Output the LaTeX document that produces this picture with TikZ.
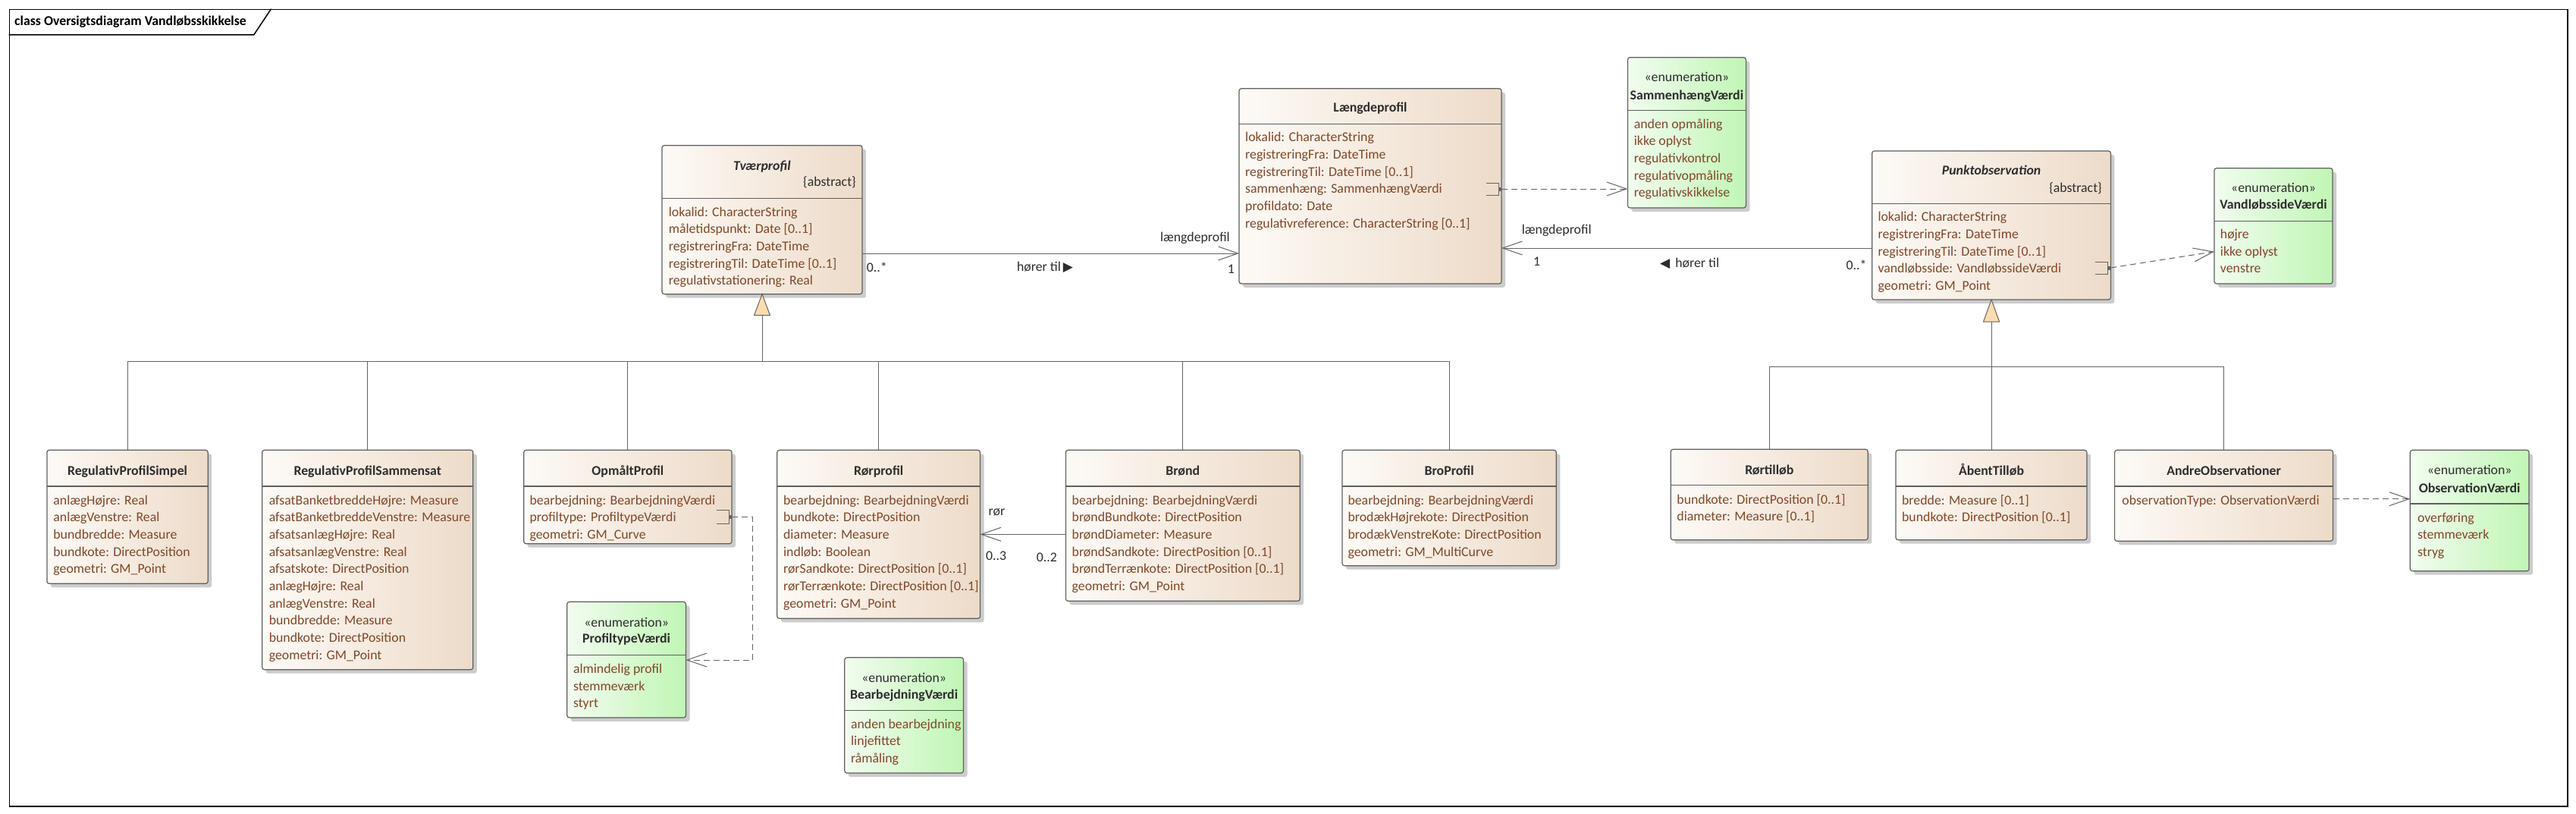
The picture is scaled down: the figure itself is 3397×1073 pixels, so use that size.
\documentclass[tikz,border=0pt]{standalone}
\usepackage{fontspec}
\setmainfont{Carlito}
\newfontfamily\symfont{DejaVu Sans}
\usetikzlibrary{arrows.meta,shadows}
\definecolor{clsL}{RGB}{253,250,246}
\definecolor{clsR}{RGB}{237,219,201}
\definecolor{enL}{RGB}{242,252,240}
\definecolor{enR}{RGB}{192,246,180}
\definecolor{bord}{RGB}{95,95,95}
\definecolor{attrc}{RGB}{128,72,40}
\definecolor{namec}{RGB}{45,45,45}
\definecolor{conc}{RGB}{100,100,100}
\definecolor{genf}{RGB}{250,221,175}
\newcommand\fs{\fontsize{17.8}{21}\selectfont}
\newcommand\attrlist[4]{\foreach \txt [count=\i from 0] in {#4} {\node[attr] (#1-\i) at (#2, #3+5+22.7*\i) {\txt};}}
\newcommand\clsbox[7]{\node[#2, minimum width=#5pt, minimum height=#6pt] (#1) at (#3,#4) {};
 \draw[divl] (#1.west |- 0,#7) -- (#1.east |- 0,#7);}
\tikzset{
 box/.style={draw=bord, line width=1.2pt, rounded corners=3pt, anchor=north west, inner sep=0pt, outer sep=0pt,
   drop shadow={shadow xshift=5pt, shadow yshift=-5pt, fill=black, opacity=0.2}},
 cls/.style={box, left color=clsL, right color=clsR},
 enm/.style={box, left color=enL, right color=enR},
 divl/.style={draw=bord, line width=1.2pt},
 attr/.style={anchor=base west, inner sep=0pt, text=attrc, font=\fs},
 cname/.style={anchor=base, inner sep=0pt, text=namec, font=\fs\bfseries},
 stereo/.style={anchor=base, inner sep=0pt, text=namec, font=\fs},
 lbl/.style={inner sep=0pt, text=namec, font=\fs},
 conn/.style={draw=conc, line width=1pt},
 assoc/.style={conn, -{Straight Barb[length=26pt,width=18pt]}},
 dep/.style={conn, dash pattern=on 8pt off 5pt, -{Straight Barb[length=26pt,width=18pt]}},
 gentri/.style={draw=conc, fill=genf, line width=1pt, line join=miter},
 brk/.style={draw=conc, line width=1pt},
}
\begin{document}
\begin{tikzpicture}[x=1pt,y=-1pt]
\fill[white] (0,0) rectangle (3397,1073);
\useasboundingbox (0,0) rectangle (3397,1073);
% frame
\node[draw=black, line width=1.5pt, minimum width=3373.5pt, minimum height=1050.6pt, anchor=north west, inner sep=0pt] (frame) at (11.5,11.7) {};
\draw[line width=1.5pt] (frame.west |- 0,46) -- (334.7,46) -- (357.6,11.7);
\node[anchor=base west, inner sep=0pt, font=\fs\bfseries] (title) at (19,34) {class Oversigtsdiagram Vandløbsskikkelse};

% ---------- boxes ----------
\clsbox{tvaer}{cls}{873}{191.7}{264}{196}{261.7}
\node[cname, font=\fs\bfseries\itshape] (tvaer-n) at (tvaer.north |- 0,224) {Tværprofil};
\node[lbl, anchor=base east] (tvaer-a) at (1129,245.7) {\{abstract\}};
\attrlist{tvaer}{881.6}{280}{lokalid: CharacterString, måletidspunkt: Date [0..1], registreringFra: DateTime, registreringTil: DateTime [0..1], regulativstationering: Real}

\clsbox{laeng}{cls}{1634}{116.7}{346}{257.3}{163.3}
\node[cname] (laeng-n) at (laeng.north |- 0,147.7) {Længdeprofil};
\attrlist{laeng}{1642}{181.7}{lokalid: CharacterString, registreringFra: DateTime, registreringTil: DateTime [0..1], sammenhæng: SammenhængVærdi, profildato: Date, regulativreference: CharacterString [0..1]}

\clsbox{sammen}{enm}{2146.4}{75.7}{156}{198.3}{145.7}
\node[stereo] (sammen-s) at (sammen.north |- 0,107.3) {«enumeration»};
\node[cname] (sammen-n) at (sammen.north |- 0,131) {SammenhængVærdi};
\attrlist{sammen}{2154.6}{164}{anden opmåling, ikke oplyst, regulativkontrol, regulativopmåling, regulativskikkelse}

\clsbox{punkt}{cls}{2468.7}{199}{314.7}{196}{268.3}
\node[cname, font=\fs\bfseries\itshape] (punkt-n) at (punkt.north |- 0,230.7) {Punktobservation};
\node[lbl, anchor=base east] (punkt-a) at (2772,253.3) {\{abstract\}};
\attrlist{punkt}{2476.3}{286.7}{lokalid: CharacterString, registreringFra: DateTime, registreringTil: DateTime [0..1], vandløbsside: VandløbssideVærdi, geometri: GM\_Point}

\clsbox{vside}{enm}{2920}{221.7}{156}{152.3}{291.7}
\node[stereo] (vside-s) at (vside.north |- 0,253.3) {«enumeration»};
\node[cname] (vside-n) at (vside.north |- 0,275.7) {VandløbssideVærdi};
\attrlist{vside}{2927.7}{309.3}{højre, ikke oplyst, venstre}

\clsbox{rps}{cls}{61.9}{593.3}{212.3}{176}{641}
\node[cname] (rps-n) at (rps.north |- 0,626) {RegulativProfilSimpel};
\attrlist{rps}{70.2}{660}{anlægHøjre: Real, anlægVenstre: Real, bundbredde: Measure, bundkote: DirectPosition, geometri: GM\_Point}

\clsbox{rpsam}{cls}{345.7}{593.3}{278.1}{289.4}{641}
\node[cname] (rpsam-n) at (rpsam.north |- 0,626) {RegulativProfilSammensat};
\attrlist{rpsam}{354.6}{660}{afsatBanketbreddeHøjre: Measure, afsatBanketbreddeVenstre: Measure, afsatsanlægHøjre: Real, afsatsanlægVenstre: Real, afsatskote: DirectPosition, anlægHøjre: Real, anlægVenstre: Real, bundbredde: Measure, bundkote: DirectPosition, geometri: GM\_Point}

\clsbox{opm}{cls}{690.7}{593.3}{274.3}{123.4}{641}
\node[cname] (opm-n) at (opm.north |- 0,626) {OpmåltProfil};
\attrlist{opm}{698.4}{660}{bearbejdning: BearbejdningVærdi, profiltype: ProfiltypeVærdi, geometri: GM\_Curve}

\clsbox{ptv}{enm}{747.8}{793.3}{156.7}{152.7}{863.3}
\node[stereo] (ptv-s) at (ptv.north |- 0,826) {«enumeration»};
\node[cname] (ptv-n) at (ptv.north |- 0,847.7) {ProfiltypeVærdi};
\attrlist{ptv}{755.8}{882.3}{almindelig profil, stemmeværk, styrt}

\clsbox{bv}{enm}{1113.8}{866.7}{156.7}{152.3}{936.7}
\node[stereo] (bv-s) at (bv.north |- 0,899) {«enumeration»};
\node[cname] (bv-n) at (bv.north |- 0,921.7) {BearbejdningVærdi};
\attrlist{bv}{1121.9}{955}{anden bearbejdning, linjefittet, råmåling}

\clsbox{ror}{cls}{1024.8}{593.3}{267.7}{222}{641}
\node[cname] (ror-n) at (ror.north |- 0,626) {Rørprofil};
\attrlist{ror}{1032.9}{660}{bearbejdning: BearbejdningVærdi, bundkote: DirectPosition, diameter: Measure, indløb: Boolean, rørSandkote: DirectPosition [0..1], rørTerrænkote: DirectPosition [0..1], geometri: GM\_Point}

\clsbox{brond}{cls}{1405.4}{593.3}{308.8}{199}{641}
\node[cname] (brond-n) at (brond.north |- 0,626) {Brønd};
\attrlist{brond}{1413.5}{660}{bearbejdning: BearbejdningVærdi, brøndBundkote: DirectPosition, brøndDiameter: Measure, brøndSandkote: DirectPosition [0..1], brøndTerrænkote: DirectPosition [0..1], geometri: GM\_Point}

\clsbox{bro}{cls}{1770}{593.3}{282.3}{152.4}{641}
\node[cname] (bro-n) at (bro.north |- 0,626) {BroProfil};
\attrlist{bro}{1777.3}{660}{bearbejdning: BearbejdningVærdi, brodækHøjrekote: DirectPosition, brodækVenstreKote: DirectPosition, geometri: GM\_MultiCurve}

\clsbox{rtl}{cls}{2203.3}{592.3}{260}{119.4}{639.3}
\node[cname] (rtl-n) at (rtl.north |- 0,625) {Rørtilløb};
\attrlist{rtl}{2211.2}{659}{bundkote: DirectPosition [0..1], diameter: Measure [0..1]}

\clsbox{abt}{cls}{2500}{593.3}{252}{118.4}{641}
\node[cname] (abt-n) at (abt.north |- 0,626) {ÅbentTilløb};
\attrlist{abt}{2507.9}{660}{bredde: Measure [0..1], bundkote: DirectPosition [0..1]}

\clsbox{andre}{cls}{2788.6}{593.3}{287.9}{120}{641}
\node[cname] (andre-n) at (andre.north |- 0,626) {AndreObservationer};
\attrlist{andre}{2798.2}{660}{observationType: ObservationVærdi}

\clsbox{obs}{enm}{3178.3}{593.3}{156.7}{159.4}{664}
\node[stereo] (obs-s) at (obs.north |- 0,625.7) {«enumeration»};
\node[cname] (obs-n) at (obs.north |- 0,649) {ObservationVærdi};
\attrlist{obs}{3187.8}{683}{overføring, stemmeværk, stryg}

% ---------- generalizations ----------
\draw[conn] ([yshift=-28pt]tvaer.south) -- (tvaer.south |- 0,476.3);
\draw[gentri] (tvaer.south) -- ++(-10.5,28) -- ++(21,0) -- cycle;
\draw[conn] (rps.north) -- (rps.north |- 0,476.3) -- (bro.north |- 0,476.3) -- (bro.north);
\foreach \n in {rpsam,opm,ror,brond} \draw[conn] (\n.north) -- (\n.north |- 0,476.3);

\draw[conn] ([yshift=-29pt]punkt.south) -- (punkt.south |- 0,483.3);
\draw[gentri] (punkt.south) -- ++(-10.5,29) -- ++(21,0) -- cycle;
\draw[conn] (rtl.north) -- (rtl.north |- 0,483.3) -- (andre.north |- 0,483.3) -- (andre.north);
\draw[conn] (abt.north) -- (abt.north |- 0,483.3);

% ---------- associations ----------
\draw[assoc] (tvaer.east |- 0,334) -- (laeng.west |- 0,334);
\node[lbl, anchor=base west] (a1m1) at (1142.7,358.3) {0..*};
\node[lbl, anchor=base west] (a1n) at (1340.8,357.7) {hører til\,{\symfont\fontsize{17}{17}\selectfont ▶}};
\node[lbl, anchor=base east] (a1r) at (1622,318.3) {længdeprofil};
\node[lbl, anchor=base east] (a1m2) at (1628,360) {1};

\draw[assoc] (punkt.west |- 0,327) -- (laeng.east |- 0,327);
\node[lbl, anchor=base west] (a2r) at (2006.6,308) {længdeprofil};
\node[lbl, anchor=base west] (a2m1) at (2022,350.7) {1};
\node[lbl, anchor=base west] (a2n) at (2189,352.3) {{\symfont\fontsize{17}{17}\selectfont ◀}\, hører til};
\node[lbl, anchor=base east] (a2m2) at (2461.7,355) {0..*};

\draw[assoc] (brond.west |- 0,704.3) -- (ror.east |- 0,704.3);
\node[lbl, anchor=base west] (a3r) at (1303.5,679.3) {rør};
\node[lbl, anchor=base west] (a3m1) at (1299.8,738.3) {0..3};
\node[lbl, anchor=base west] (a3m2) at (1366.6,740) {0..2};

% ---------- dependencies ----------
\coordinate (d1) at (laeng.east |- 0,249);
\draw[brk] ([xshift=-20pt,yshift=8pt]d1) -| ([xshift=-4pt,yshift=-8pt]d1) -- ([xshift=-20pt,yshift=-8pt]d1);
\fill[conc] ([xshift=-4.5pt,yshift=2.5pt]d1) rectangle ([yshift=-2.5pt]d1);
\draw[dep] (d1) -- (sammen.west |- d1);

\coordinate (d2) at (punkt.east |- 0,353);
\draw[brk] ([xshift=-20pt,yshift=8pt]d2) -| ([xshift=-4pt,yshift=-8pt]d2) -- ([xshift=-20pt,yshift=-8pt]d2);
\fill[conc] ([xshift=-4.5pt,yshift=2.5pt]d2) rectangle ([yshift=-2.5pt]d2);
\draw[dep] (d2) -- (vside.west |- 0,331.7);

\coordinate (d3) at (opm.east |- 0,681);
\draw[brk] ([xshift=-20pt,yshift=9pt]d3) -| ([xshift=-4pt,yshift=-9pt]d3) -- ([xshift=-20pt,yshift=-9pt]d3);
\fill[conc] ([xshift=-4.5pt,yshift=2.5pt]d3) rectangle ([yshift=-2.5pt]d3);
\draw[dep] (d3) -- ++(27.4,0) |- (ptv.east |- 0,870);

\draw[dep] (andre.east |- 0,657.7) -- (obs.west |- 0,657.7);
\end{tikzpicture}
\end{document}
